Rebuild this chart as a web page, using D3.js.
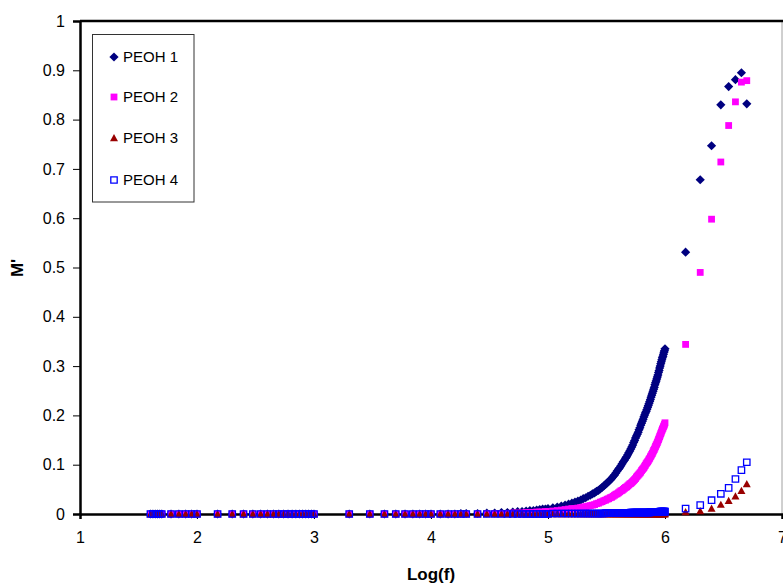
<!DOCTYPE html>
<html><head><meta charset="utf-8">
<script src="https://cdn.jsdelivr.net/npm/d3@7"></script>
<style>body{margin:0;background:#fff}svg{display:block;font-family:"Liberation Sans",Arial,sans-serif}</style>
</head><body><svg id="c" width="783" height="585"></svg>
<script>
// Frequencies in Hz (x axis shows log10 of these)
const freq = [40,42,44,46,48,50,60,70,80,90,100,
 150,200,250,300,350,400,450,500,550,600,650,700,750,800,850,900,950,1000,
 2000,3000,4000,5000,6000,7000,8000,9000,10000,
 12000,14000,16000,18000,20000,
 25000,30000,35000,40000,45000,50000,55000,60000,65000,70000,75000,80000,85000,90000,95000,100000,
 110000,120000,130000,140000,150000,160000,170000,180000,190000,200000,
 210000,220000,230000,240000,250000,260000,270000,280000,290000,300000,
 310000,320000,330000,340000,350000,360000,370000,380000,390000,400000,
 410000,420000,430000,440000,450000,460000,470000,480000,490000,500000,
 510000,520000,530000,540000,550000,560000,570000,580000,590000,600000,
 610000,620000,630000,640000,650000,660000,670000,680000,690000,700000,
 710000,720000,730000,740000,750000,760000,770000,780000,790000,800000,
 810000,820000,830000,840000,850000,860000,870000,880000,890000,900000,
 910000,920000,930000,940000,950000,960000,970000,980000,990000,1000000,
 1500000,2000000,2500000,3000000,3500000,4000000,4500000,5000000];

const peoh1 = [0,0,0,0,0,0,0,0,0,0,0,
 0,0,0,0,0,0,0,0,0,0,0,0,0,0,0,0,0,0,
 0,0,0,0,0,0,0,0,0,
 0,0,0,0.001,0.001,
 0.001,0.002,0.002,0.003,0.003,0.004,0.005,0.005,0.006,0.007,0.007,0.008,0.009,0.010,0.010,0.011,
 0.0125,0.014,0.016,0.018,0.020,0.022,0.024,0.026,0.028,0.031,
 0.033,0.036,0.038,0.041,0.043,0.046,0.048,0.051,0.054,0.057,
 0.060,0.063,0.066,0.069,0.072,0.076,0.079,0.083,0.087,0.091,
 0.094,0.098,0.102,0.106,0.109,0.113,0.116,0.120,0.124,0.128,
 0.132,0.136,0.140,0.145,0.149,0.154,0.158,0.162,0.166,0.171,
 0.175,0.180,0.184,0.188,0.192,0.197,0.201,0.205,0.208,0.212,
 0.216,0.220,0.224,0.228,0.232,0.237,0.241,0.245,0.249,0.253,
 0.257,0.262,0.266,0.270,0.274,0.278,0.282,0.287,0.291,0.296,
 0.300,0.305,0.309,0.313,0.317,0.320,0.324,0.328,0.331,0.335,
 0.531,0.678,0.747,0.830,0.867,0.881,0.895,0.832];

const peoh2 = [0,0,0,0,0,0,0,0,0,0,0,
 0,0,0,0,0,0,0,0,0,0,0,0,0,0,0,0,0,0,
 0,0,0,0,0,0,0,0,0,
 0,0,0,0,0,
 0.000,0.001,0.001,0.001,0.001,0.002,0.002,0.002,0.003,0.003,0.003,0.004,0.004,0.004,0.005,0.005,
 0.006,0.007,0.008,0.009,0.010,0.011,0.011,0.012,0.013,0.014,
 0.015,0.016,0.017,0.018,0.019,0.021,0.022,0.024,0.025,0.027,
 0.028,0.030,0.031,0.033,0.034,0.036,0.038,0.040,0.041,0.043,
 0.045,0.047,0.048,0.050,0.052,0.054,0.055,0.057,0.059,0.061,
 0.062,0.064,0.066,0.068,0.070,0.072,0.075,0.077,0.079,0.081,
 0.083,0.085,0.088,0.090,0.092,0.094,0.097,0.099,0.102,0.104,
 0.106,0.108,0.111,0.113,0.116,0.118,0.121,0.123,0.126,0.129,
 0.131,0.134,0.137,0.140,0.142,0.145,0.148,0.151,0.154,0.157,
 0.160,0.163,0.166,0.169,0.172,0.174,0.177,0.179,0.182,0.185,
 0.344,0.490,0.598,0.714,0.788,0.836,0.876,0.879];

const peoh3 = [0,0,0,0,0,0,0,0,0,0,0,
 0,0,0,0,0,0,0,0,0,0,0,0,0,0,0,0,0,0,
 0,0,0,0,0,0,0,0,0,
 0,0,0,0,0,
 0,0,0,0,0,0,0,0,0,0,0,0,0,0,0,0,
 0,0,0,0,0,0,0,0,0,0,
 0,0,0,0,0,0,0,0,0,0,
 0,0,0,0,0,0,0,0,0,0,
 0,0,0,0,0,0,0,0,0,0,
 0,0,0,0,0,0,0,0,0,0,
 0,0,0,0,0,0,0,0,0,0,
 0,0,0,0,0,0,0,0,0,0,
 0,0,0,0,0,0,0,0,0,0,
 0,0,0,0,0,0,0,0,0,0,
 0.004,0.006,0.011,0.019,0.027,0.036,0.047,0.061];

const peoh4 = [0,0,0,0,0,0,0,0,0,0,0,
 0,0,0,0,0,0,0,0,0,0,0,0,0,0,0,0,0,0,
 0,0,0,0,0,0,0,0,0,
 0,0,0,0,0,
 0,0,0,0,0,0,0,0,0,0,0,0,0,0,0,0,
 0.001,0.001,0.001,0.001,0.001,0.001,0.001,0.001,0.001,0.001,
 0.001,0.001,0.001,0.001,0.001,0.001,0.001,0.001,0.001,0.001,
 0.002,0.002,0.002,0.002,0.002,0.002,0.002,0.002,0.002,0.002,
 0.002,0.002,0.002,0.002,0.002,0.002,0.002,0.002,0.002,0.002,
 0.003,0.003,0.003,0.003,0.003,0.003,0.003,0.003,0.003,0.003,
 0.003,0.003,0.003,0.003,0.003,0.003,0.003,0.003,0.003,0.003,
 0.003,0.003,0.003,0.003,0.004,0.004,0.004,0.004,0.004,0.004,
 0.004,0.004,0.004,0.004,0.004,0.004,0.004,0.004,0.004,0.004,
 0.005,0.005,0.005,0.005,0.005,0.005,0.005,0.005,0.005,0.005,
 0.011,0.018,0.028,0.041,0.053,0.071,0.089,0.105];

const seriesNames = ["PEOH 1","PEOH 2","PEOH 3","PEOH 4"];
const xTicks = [1,2,3,4,5,6,7];
const yTicks = [0,0.1,0.2,0.3,0.4,0.5,0.6,0.7,0.8,0.9,1];

const seriesVals = [peoh1,peoh2,peoh3,peoh4];
const styles = [
  {shape:"diamond", fill:"#000080", stroke:"none"},
  {shape:"square", fill:"#FF00FF", stroke:"none"},
  {shape:"triangle", fill:"#990000", stroke:"none"},
  {shape:"osquare", fill:"none", stroke:"#0000FF"}
];
function markerPath(s){
  if(s==="diamond") return "M0,-4.6L4.6,0L0,4.6L-4.6,0Z";
  if(s==="square") return "M-3.4,-3.4H3.4V3.4H-3.4Z";
  if(s==="triangle") return "M0,-4L4,3.2H-4Z";
  return "M-3.2,-3.2H3.2V3.2H-3.2Z";
}

const svg = d3.select("#c");
const x = d3.scaleLinear().domain([1,7]).range([80,782]);
const y = d3.scaleLinear().domain([0,1]).range([514,21]);

// frame
svg.append("line").attr("x1",782).attr("x2",782).attr("y1",21).attr("y2",514).attr("stroke","#a0a0a0").attr("stroke-width",1);
svg.append("line").attr("x1",80).attr("x2",783).attr("y1",21).attr("y2",21).attr("stroke","#000").attr("stroke-width",2.5);

// axes
const yAxis = d3.axisLeft(y).tickValues(yTicks).tickSize(7).tickPadding(8).tickFormat(d=>d3.format("")(+d.toFixed(1)));
const gy = svg.append("g").attr("transform","translate(80,0)").call(yAxis);
gy.select(".domain").attr("stroke","#000").attr("stroke-width",2.5);
gy.selectAll(".tick line").attr("stroke","#000");
gy.selectAll("text").attr("font-size",16).attr("font-family","Liberation Sans, Arial").attr("fill","#000");

const xAxis = d3.axisBottom(x).tickValues(xTicks).tickSize(5).tickPadding(13).tickFormat(d3.format("d"));
const gx = svg.append("g").attr("transform","translate(0,514)").call(xAxis);
gx.select(".domain").attr("stroke","#000").attr("stroke-width",2.5);
gx.selectAll(".tick line").attr("stroke","#000");
gx.selectAll("text").attr("font-size",16).attr("font-family","Liberation Sans, Arial").attr("fill","#000");

// series
seriesVals.forEach((vals,si)=>{
  const st = styles[si];
  const pts = freq.map((f,i)=>({x:Math.log10(f), y:vals[i]}));
  svg.append("g").selectAll("path").data(pts).join("path")
    .attr("transform",d=>`translate(${x(d.x)},${y(d.y)})`)
    .attr("d",markerPath(st.shape))
    .attr("fill",st.fill).attr("stroke",st.stroke).attr("stroke-width",st.stroke==="none"?0:1.3);
});

// titles
svg.append("text").attr("x",431).attr("y",580).attr("text-anchor","middle")
  .attr("font-size",17).attr("font-weight","bold").text("Log(f)");
svg.append("text").attr("transform","translate(23,268) rotate(-90)").attr("text-anchor","middle")
  .attr("font-size",17).attr("font-weight","bold").text("M'");

// legend
const lg = svg.append("g");
lg.append("rect").attr("x",92.5).attr("y",34.5).attr("width",101.5).attr("height",167.5)
  .attr("fill","#fff").attr("stroke","#333").attr("stroke-width",1);
const ly = [57,97,138,180];
seriesNames.forEach((n,i)=>{
  const st = styles[i];
  lg.append("path").attr("transform",`translate(114,${ly[i]})`).attr("d",markerPath(st.shape))
    .attr("fill",st.fill).attr("stroke",st.stroke).attr("stroke-width",st.stroke==="none"?0:1.3);
  lg.append("text").attr("x",123).attr("y",ly[i]).attr("dy","0.36em").attr("font-size",15).text(n);
});
</script></body></html>
